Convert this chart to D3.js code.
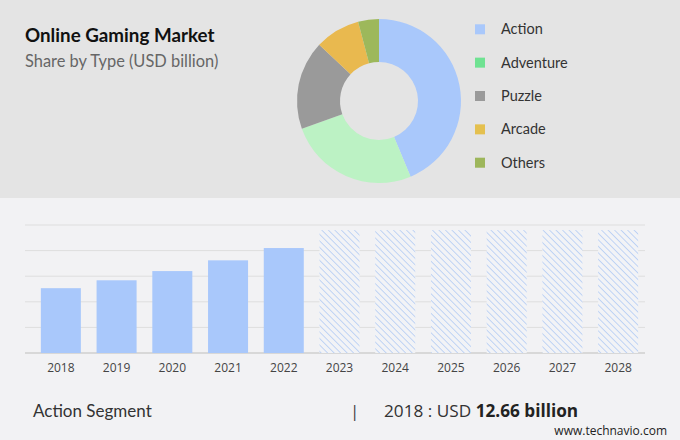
<!DOCTYPE html>
<html><head><meta charset="utf-8">
<script src="https://cdn.jsdelivr.net/npm/d3@7"></script>
<style>
html,body{margin:0;padding:0;background:#f2f2f4;}
svg{display:block;}
</style></head>
<body>
<script>
// ---- data ----
const segments = ["Action", "Adventure", "Puzzle", "Arcade", "Others"];
const shares = [43.7, 25.8, 17.5, 8.9, 4.1];
const donutColors = ["#a9c8fb", "#bcf2c4", "#9a9a9a", "#e9b94f", "#9db85b"];
const legendColors = ["#a9c8fb", "#6fe292", "#9a9a9a", "#e4c04f", "#9db65b"];
const years = ["2018","2019","2020","2021","2022","2023","2024","2025","2026","2027","2028"];
const historic = [12.66, 14.2, 16.0, 18.1, 20.5];
const forecast = [24, 24, 24, 24, 24, 24];
const yTicks = [0, 5, 10, 15, 20, 25];

const W = 680, H = 440;
const svg = d3.select("body").append("svg").attr("width", W).attr("height", H);

const defs = svg.append("defs");
const ps = 4.6;
const pat = defs.append("pattern").attr("id","hatch").attr("patternUnits","userSpaceOnUse")
  .attr("width",ps).attr("height",ps).attr("patternTransform","rotate(-45)");
pat.append("rect").attr("width",ps).attr("height",ps).attr("fill","#f2f3f6");
pat.append("line").attr("x1",0).attr("y1",0).attr("x2",0).attr("y2",ps)
  .attr("stroke","#b0c9f4").attr("stroke-width",1.5);

// backgrounds
svg.append("rect").attr("x",0).attr("y",0).attr("width",W).attr("height",198).attr("fill","#e4e4e4");
svg.append("rect").attr("x",0).attr("y",198).attr("width",W).attr("height",H-198).attr("fill","#f2f2f4");

// title
svg.append("text").attr("x",25).attr("y",42).text("Online Gaming Market")
  .attr("font-family","Lato, 'Open Sans', sans-serif").attr("font-weight","bold").attr("font-size",18.8).attr("fill","#111");
svg.append("text").attr("x",25).attr("y",67).text("Share by Type (USD billion)")
  .attr("font-family","Lato, 'Open Sans', sans-serif").attr("font-size",16.4).attr("fill","#666");

// donut
const pie = d3.pie().sort(null).value(d => d)(shares);
const arc = d3.arc().innerRadius(39).outerRadius(82);
const dg = svg.append("g").attr("transform","translate(379,101)");
dg.selectAll("path").data(pie).join("path").attr("d", arc)
  .attr("fill",(d,i)=>donutColors[i]);

// legend
const lg = svg.append("g");
const ly = d3.scalePoint().domain(segments).range([29.3, 162.7]);
segments.forEach((s,i)=>{
  lg.append("rect").attr("x",475).attr("y",ly(s)-5).attr("width",10).attr("height",10).attr("fill",legendColors[i]);
  lg.append("text").attr("x",501).attr("y",ly(s)+5).text(s)
    .attr("font-family","Lato, 'Open Sans', sans-serif").attr("font-size",14.5).attr("fill","#333");
});

// bar chart
const x = d3.scaleBand().domain(years).range([33, 646]).paddingInner(0.282).paddingOuter(0.141);
const y = d3.scaleLinear().domain([0, 25]).range([353, 225]);

const grid = svg.append("g");
grid.selectAll("line").data(yTicks).join("line")
  .attr("x1",25).attr("x2",645).attr("y1",d=>y(d)).attr("y2",d=>y(d))
  .attr("stroke",d=> d===0 ? "#cfcfcf" : "#dedede").attr("stroke-width",d=>d===0?1.5:1);

svg.append("g").selectAll("rect").data(historic).join("rect")
  .attr("x",(d,i)=>x(years[i])).attr("width",x.bandwidth())
  .attr("y",d=>y(d)).attr("height",d=>y(0)-y(d)).attr("fill","#a9c8fb");

svg.append("g").selectAll("rect").data(forecast).join("rect")
  .attr("x",(d,i)=>x(years[i+historic.length])).attr("width",x.bandwidth())
  .attr("y",d=>y(d)).attr("height",d=>y(0)-y(d)).attr("fill","url(#hatch)");

const xAxis = d3.axisBottom(x).tickSize(0).tickPadding(0);
const xg = svg.append("g").attr("transform",`translate(0,${y(0)})`).call(xAxis);
xg.select(".domain").remove();
xg.selectAll("text").attr("dy",0).attr("y",19)
  .attr("font-family","'Open Sans', Arial, sans-serif").attr("font-size",12).attr("fill","#444");

// footer
svg.append("text").attr("x",33).attr("y",417).text("Action Segment")
  .attr("font-family","Lato, 'Open Sans', sans-serif").attr("font-size",17).attr("fill","#333");
svg.append("text").attr("x",350).attr("y",417).text("|")
  .attr("font-family","'Open Sans', sans-serif").attr("font-size",17).attr("fill","#444");
const ft = svg.append("text").attr("x",384).attr("y",417)
  .attr("font-family","'Open Sans', sans-serif").attr("font-size",17.2).attr("fill","#333");
ft.append("tspan").text("2018 : USD ");
ft.append("tspan").attr("font-weight","bold").attr("fill","#222").text("12.66 billion");
svg.append("text").attr("x",667).attr("y",435).attr("text-anchor","end").text("www.technavio.com")
  .attr("font-family","'Open Sans', sans-serif").attr("font-size",12).attr("fill","#222");
</script>
</body></html>
